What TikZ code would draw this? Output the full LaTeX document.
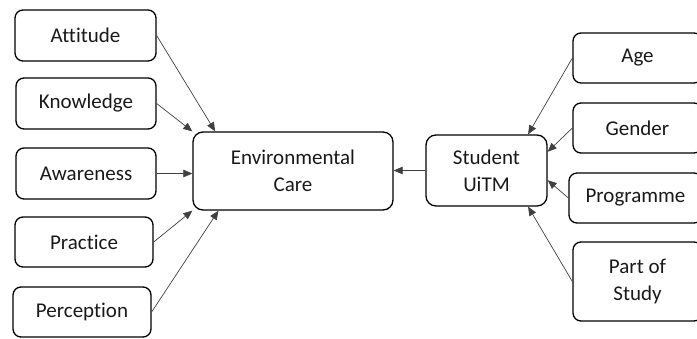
\documentclass[tikz,border=0pt]{standalone}
\usepackage{fontspec}
\setmainfont[Ligatures={NoCommon}]{Carlito}
\usetikzlibrary{arrows.meta,calc}
\begin{document}
\begin{tikzpicture}[x=1pt,y=-1pt,
  box/.style={draw=black,line width=1.3pt,rounded corners=8pt,inner sep=0pt,align=center,
    font=\fontsize{21}{27}\selectfont,text=black!90},
  conn/.style={draw=black!75,line width=0.7pt,-{Triangle[length=9pt,width=7.5pt]}}]
\useasboundingbox (0,0) rectangle (697,338);
% left factors
\node[box,minimum width=141pt,minimum height=51pt] (att) at (85.5,35.5) {Attitude};
\node[box,minimum width=140pt,minimum height=51pt] (kno) at (86,103.5) {Knowledge};
\node[box,minimum width=140pt,minimum height=51pt] (awa) at (86,173.5) {Awareness};
\node[box,minimum width=138pt,minimum height=50pt] (pra) at (84,242) {Practice};
\node[box,minimum width=138pt,minimum height=50pt] (per) at (82,312) {Perception};
% centre
\node[box,rounded corners=10pt,minimum width=200pt,minimum height=78pt] (env) at (293,171) {Environmental\\Care};
\node[box,rounded corners=10pt,minimum width=121pt,minimum height=71pt] (stu) at (486.5,170.5) {Student\\UiTM};
% right factors
\node[box,minimum width=129pt,minimum height=50pt] (age) at (637.5,58) {Age};
\node[box,minimum width=129pt,minimum height=50pt] (gen) at (637.5,128) {Gender};
\node[box,minimum width=133pt,minimum height=50pt] (pro) at (635.5,198) {Programme};
\node[box,minimum width=129pt,minimum height=79pt] (pos) at (637.5,281.5) {Part of\\Study};
% connectors
\draw[conn] (att.east) -- (env.153);
\draw[conn] (kno.east) -- (env.north west);
\draw[conn] (awa.east) -- (awa.east -| env.west);
\draw[conn] (pra.east) -- (env.south west);
\draw[conn] (per.east) -- (env.208);
\draw[conn] (stu.west) -- (stu.west -| env.east);
\draw[conn] (age.west) -- (stu.41);
\draw[conn] (gen.west) -- (stu.17);
\draw[conn] (pro.west) -- (stu.-9);
\draw[conn] (pos.west) -- (stu.-41);
\end{tikzpicture}
\end{document}
